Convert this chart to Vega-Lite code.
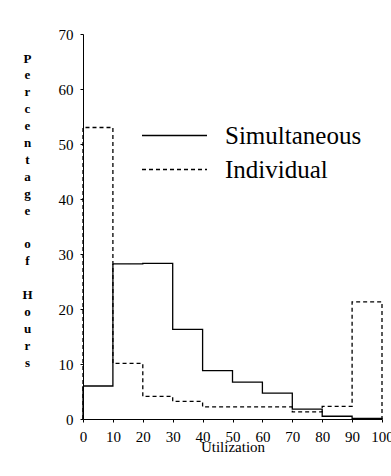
{
  "$schema": "https://vega.github.io/schema/vega-lite/v6.json",
  "width": 299,
  "height": 385,
  "autosize": {"type": "none"},
  "padding": {"left": 83, "top": 34, "right": 9, "bottom": 57},
  "background": "white",
  "config": {
    "view": {"stroke": null},
    "font": "Liberation Serif",
    "style": {
      "guide-label": {"font": "Liberation Serif", "fill": "black"},
      "guide-title": {"font": "Liberation Serif", "fill": "black"}
    },
    "axis": {
      "grid": false,
      "domainColor": "black",
      "tickColor": "black",
      "labelColor": "black",
      "titleColor": "black",
      "labelFont": "Liberation Serif",
      "titleFont": "Liberation Serif",
      "labelFontSize": 15,
      "titleFontSize": 15,
      "titleFontWeight": "normal",
      "tickSize": 3
    },
    "legend": {
      "labelFont": "Liberation Serif"
    }
  },
  "data": {
    "values": [
      {"series": "Simultaneous", "u": 0, "pct": 0, "k": 0},
      {"series": "Simultaneous", "u": 0, "pct": 6.0, "k": 1},
      {"series": "Simultaneous", "u": 10, "pct": 28.2, "k": 2},
      {"series": "Simultaneous", "u": 20, "pct": 28.3, "k": 3},
      {"series": "Simultaneous", "u": 30, "pct": 16.3, "k": 4},
      {"series": "Simultaneous", "u": 40, "pct": 8.8, "k": 5},
      {"series": "Simultaneous", "u": 50, "pct": 6.7, "k": 6},
      {"series": "Simultaneous", "u": 60, "pct": 4.7, "k": 7},
      {"series": "Simultaneous", "u": 70, "pct": 1.8, "k": 8},
      {"series": "Simultaneous", "u": 80, "pct": 0.5, "k": 9},
      {"series": "Simultaneous", "u": 90, "pct": 0.1, "k": 10},
      {"series": "Simultaneous", "u": 100, "pct": 0.1, "k": 11},
      {"series": "Simultaneous", "u": 100, "pct": 0, "k": 12},
      {"series": "Individual", "u": 0, "pct": 0, "k": 0},
      {"series": "Individual", "u": 0, "pct": 53.0, "k": 1},
      {"series": "Individual", "u": 10, "pct": 10.1, "k": 2},
      {"series": "Individual", "u": 20, "pct": 4.1, "k": 3},
      {"series": "Individual", "u": 30, "pct": 3.2, "k": 4},
      {"series": "Individual", "u": 40, "pct": 2.2, "k": 5},
      {"series": "Individual", "u": 50, "pct": 2.2, "k": 6},
      {"series": "Individual", "u": 60, "pct": 2.2, "k": 7},
      {"series": "Individual", "u": 70, "pct": 1.3, "k": 8},
      {"series": "Individual", "u": 80, "pct": 2.3, "k": 9},
      {"series": "Individual", "u": 90, "pct": 21.3, "k": 10},
      {"series": "Individual", "u": 100, "pct": 21.3, "k": 11},
      {"series": "Individual", "u": 100, "pct": 0, "k": 12}
    ]
  },
  "mark": {"type": "line", "interpolate": "step-after", "color": "black", "strokeWidth": 1.3, "clip": false},
  "encoding": {
    "x": {
      "field": "u",
      "type": "quantitative",
      "scale": {"domain": [0, 100], "nice": false, "zero": false},
      "axis": {
        "values": [0, 10, 20, 30, 40, 50, 60, 70, 80, 90, 100],
        "title": "Utilization",
        "labelPadding": 7,
        "labelFlush": false,
        "labelOverlap": false,
        "titleY": 32,
        "titleBaseline": "alphabetic"
      }
    },
    "y": {
      "field": "pct",
      "type": "quantitative",
      "scale": {"domain": [0, 70], "nice": false},
      "axis": {
        "values": [0, 10, 20, 30, 40, 50, 60, 70],
        "labelPadding": 7,
        "title": ["P", "e", "r", "c", "e", "n", "t", "a", "g", "e", "\u200b", "o", "f", "\u200b", "H", "o", "u", "r", "s"],
        "titleAngle": 0,
        "titleFontSize": 13,
        "titleFontWeight": "bold",
        "titleLineHeight": 16.9,
        "titleAlign": "center",
        "titleBaseline": "top",
        "titleX": -56,
        "titleY": 18
      }
    },
    "strokeDash": {
      "field": "series",
      "type": "nominal",
      "scale": {"domain": ["Simultaneous", "Individual"], "range": [[1, 0], [4, 3]]},
      "legend": {
        "orient": "none",
        "legendX": 79,
        "legendY": 89,
        "title": null,
        "padding": 0,
        "symbolType": "M -3.25 0 L 3.25 0",
        "symbolSize": 400,
        "symbolStrokeWidth": 1.4,
        "symbolStrokeColor": "black",
        "labelFontSize": 25,
        "labelFont": "Liberation Serif",
        "labelColor": "black",
        "labelOffset": 38,
        "rowPadding": 8
      }
    },
    "order": {"field": "k", "type": "quantitative"}
  }
}
